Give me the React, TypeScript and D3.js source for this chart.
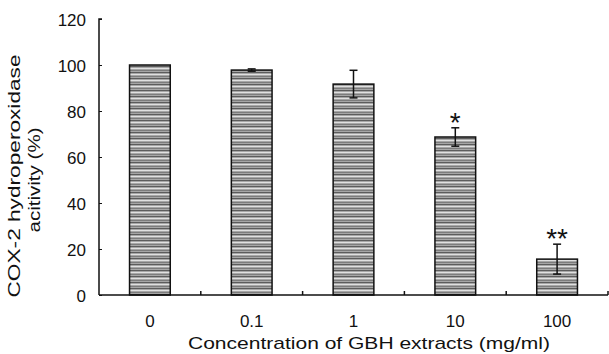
import { useEffect, useRef } from "react";
import * as d3 from "d3";

const categories = ["0", "0.1", "1", "10", "100"];
const activity = [100, 97.8, 91.7, 68.7, 15.6];
const errors = [0, 0.5, 6, 4, 6.5];
const marks = ["", "", "", "*", "**"];
const yTicks = [0, 20, 40, 60, 80, 100, 120];

export default function App() {
  const svgRef = useRef<SVGSVGElement>(null);

  useEffect(() => {
    const svg = d3.select(svgRef.current);
    svg.selectAll("*").remove();

    const width = 609;
    const height = 354;
    const left = 99;
    const right = 608;
    const top = 19;
    const bottom = 295;
    const font = "Liberation Sans, Arial, sans-serif";

    svg.attr("width", width).attr("height", height).style("background", "#fff");

    // striped gray fill, like the scanned bars
    const defs = svg.append("defs");
    const pat = defs
      .append("pattern")
      .attr("id", "stripes")
      .attr("patternUnits", "userSpaceOnUse")
      .attr("width", 40)
      .attr("height", 6);
    pat.append("rect").attr("width", 40).attr("height", 6).attr("fill", "#a6a6a6");
    pat.append("rect").attr("y", 0).attr("width", 40).attr("height", 1).attr("fill", "#5c5c5c");
    pat.append("rect").attr("y", 2).attr("width", 40).attr("height", 1).attr("fill", "#e0e0e0");
    pat.append("rect").attr("y", 4).attr("width", 40).attr("height", 1).attr("fill", "#7c7c7c");

    const x = d3.scaleBand().domain(categories).range([left, right]).paddingInner(0.6).paddingOuter(0.3);
    const y = d3.scaleLinear().domain([0, 120]).range([bottom, top]);

    const data = categories.map((c, i) => ({ c, v: activity[i], e: errors[i], m: marks[i] }));

    // bars
    svg
      .selectAll(".bar")
      .data(data)
      .join("rect")
      .attr("class", "bar")
      .attr("x", (d) => x(d.c)!)
      .attr("y", (d) => y(d.v))
      .attr("width", x.bandwidth())
      .attr("height", (d) => y(0) - y(d.v))
      .attr("fill", "url(#stripes)")
      .attr("stroke", "#111")
      .attr("stroke-width", 1.5);

    // error bars (upper and lower)
    const eb = svg.selectAll(".err").data(data.filter((d) => d.e > 0)).join("g").attr("class", "err");
    const cx = (d: any) => x(d.c)! + x.bandwidth() / 2;
    eb.append("line")
      .attr("x1", cx)
      .attr("x2", cx)
      .attr("y1", (d) => y(d.v + d.e))
      .attr("y2", (d) => y(d.v - d.e))
      .attr("stroke", "#111")
      .attr("stroke-width", 1.5);
    eb.append("line")
      .attr("x1", (d) => cx(d) - 4)
      .attr("x2", (d) => cx(d) + 4)
      .attr("y1", (d) => y(d.v + d.e))
      .attr("y2", (d) => y(d.v + d.e))
      .attr("stroke", "#111")
      .attr("stroke-width", 1.5);
    eb.append("line")
      .attr("x1", (d) => cx(d) - 4)
      .attr("x2", (d) => cx(d) + 4)
      .attr("y1", (d) => y(d.v - d.e))
      .attr("y2", (d) => y(d.v - d.e))
      .attr("stroke", "#111")
      .attr("stroke-width", 1.5);

    // significance marks
    svg
      .selectAll(".mark")
      .data(data.filter((d) => d.m))
      .join("text")
      .attr("class", "mark")
      .attr("x", cx)
      .attr("y", (d) => y(d.v + d.e) + 4)
      .attr("text-anchor", "middle")
      .attr("font-family", font)
      .attr("font-size", 28)
      .attr("fill", "#111")
      .text((d) => d.m);

    // y axis, ticks inward
    const yAxis = svg
      .append("g")
      .attr("transform", `translate(${left},0)`)
      .call(d3.axisRight(y).tickValues(yTicks).tickSize(3).tickFormat(() => ""));
    yAxis.select(".domain").attr("d", `M3,${top}H0V${bottom}`).attr("stroke", "#111").attr("stroke-width", 1.5);
    yAxis.selectAll(".tick line").attr("stroke", "#111");

    svg
      .selectAll(".ytl")
      .data(yTicks)
      .join("text")
      .attr("class", "ytl")
      .attr("x", 86)
      .attr("y", (d) => y(d) + 1.5)
      .attr("dy", "0.35em")
      .attr("text-anchor", "end")
      .attr("font-family", font)
      .attr("font-size", 17)
      .attr("fill", "#111")
      .text((d) => d);

    // x axis, ticks between bars pointing up
    const step = x.step();
    const edges = categories.map((c) => x(c)! + x.bandwidth() / 2 + step / 2);
    const xAxis = svg.append("g");
    xAxis
      .append("line")
      .attr("x1", left)
      .attr("x2", right)
      .attr("y1", bottom)
      .attr("y2", bottom)
      .attr("stroke", "#111")
      .attr("stroke-width", 1.5);
    xAxis
      .selectAll(".xt")
      .data(edges)
      .join("line")
      .attr("x1", (d) => d)
      .attr("x2", (d) => d)
      .attr("y1", bottom)
      .attr("y2", bottom - 4)
      .attr("stroke", "#111")
      .attr("stroke-width", 1.5);

    svg
      .selectAll(".xtl")
      .data(categories)
      .join("text")
      .attr("class", "xtl")
      .attr("x", (d) => x(d)! + x.bandwidth() / 2)
      .attr("y", 327)
      .attr("text-anchor", "middle")
      .attr("font-family", font)
      .attr("font-size", 17)
      .attr("fill", "#111")
      .text((d) => d);

    svg
      .append("text")
      .attr("x", 369)
      .attr("y", 349)
      .attr("text-anchor", "middle")
      .attr("font-family", font)
      .attr("font-size", 17)
      .attr("textLength", 362)
      .attr("lengthAdjust", "spacingAndGlyphs")
      .attr("fill", "#111")
      .text("Concentration of GBH extracts (mg/ml)");

    svg
      .append("text")
      .attr("transform", `translate(20,176) rotate(-90)`)
      .attr("text-anchor", "middle")
      .attr("font-family", font)
      .attr("font-size", 16)
      .attr("textLength", 243)
      .attr("lengthAdjust", "spacingAndGlyphs")
      .attr("fill", "#111")
      .text("COX-2 hydroperoxidase");
    svg
      .append("text")
      .attr("transform", `translate(40,180) rotate(-90)`)
      .attr("text-anchor", "middle")
      .attr("font-family", font)
      .attr("font-size", 16)
      .attr("textLength", 105)
      .attr("lengthAdjust", "spacingAndGlyphs")
      .attr("fill", "#111")
      .text("acitivity (%)");
  }, []);

  return (
    <div style={{ position: "absolute", left: 0, top: 0 }}>
      <svg ref={svgRef} style={{ display: "block" }} />
    </div>
  );
}
